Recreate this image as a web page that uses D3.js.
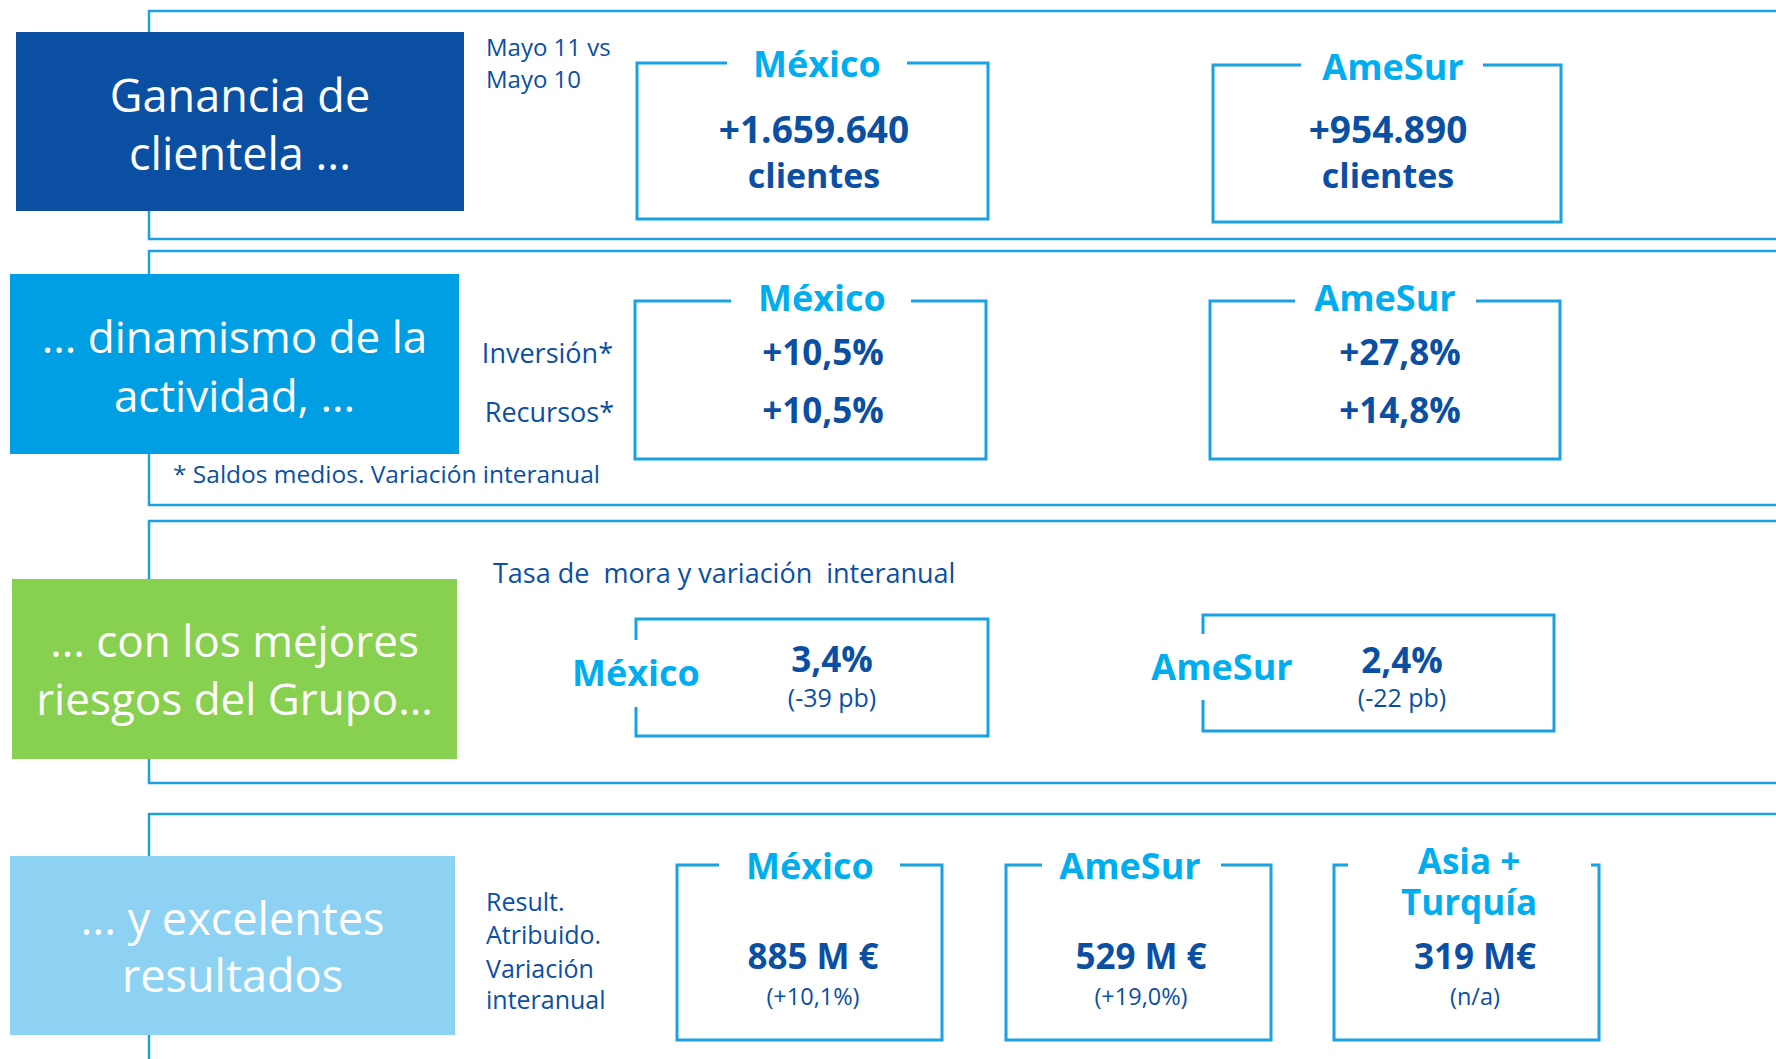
<!DOCTYPE html>
<html>
<head>
<meta charset="utf-8">
<script src="https://cdn.jsdelivr.net/npm/d3@7"></script>
<style>
  body { margin: 0; background: #fff; }
  svg { display: block; font-family: 'Open Sans', sans-serif; }
  text { white-space: pre; }
</style>
</head>
<body>
<div id="chart"></div>
<script>
// data
const themes = [
  ['Ganancia de', 'clientela ...'],
  ['... dinamismo de la', 'actividad, ...'],
  ['... con los mejores', 'riesgos del Grupo...'],
  ['... y excelentes', 'resultados']
];
const regions = ['México', 'AmeSur', 'Asia + Turquía'];
const clientGain = ['+1.659.640', '+954.890'];
const inversion = ['+10,5%', '+27,8%'];
const recursos = ['+10,5%', '+14,8%'];
const moraRate = ['3,4%', '2,4%'];
const moraChange = ['(-39 pb)', '(-22 pb)'];
const profit = ['885 M €', '529 M €', '319 M€'];
const profitChange = ['(+10,1%)', '(+19,0%)', '(n/a)'];

const w = 1776, h = 1059;
const darkBlue = '#0b4fa3';
const lightBlue = '#00aeef';
const lineBlue = '#1ba1e2';
const themeColor = d3.scaleOrdinal()
  .domain(d3.range(4))
  .range(['#0a4fa2', '#009fe3', '#88d04f', '#8dd2f3']);

const svg = d3.select('#chart').append('svg')
  .attr('width', w)
  .attr('height', h);

// outer panel frames
const panels = [
  { top: 11, bottom: 239, box: [16, 32, 464, 211], lines: [112, 170], size: 45 },
  { top: 251, bottom: 505, box: [10, 274, 459, 454], lines: [353, 412], size: 44 },
  { top: 521, bottom: 783, box: [12, 579, 457, 759], lines: [657, 715], size: 44 },
  { top: 814, bottom: 1120, box: [10, 856, 455, 1035], lines: [935, 992], size: 45 }
];

svg.selectAll('rect.frame')
  .data(panels)
  .enter()
  .append('rect')
  .attr('class', 'frame')
  .attr('x', 149)
  .attr('y', d => d.top)
  .attr('width', 1800)
  .attr('height', d => d.bottom - d.top)
  .attr('fill', 'none')
  .attr('stroke', lineBlue)
  .attr('stroke-width', 2.5);

const theme = svg.selectAll('g.theme')
  .data(panels)
  .enter()
  .append('g')
  .attr('class', 'theme');

theme.append('rect')
  .attr('x', d => d.box[0])
  .attr('y', d => d.box[1])
  .attr('width', d => d.box[2] - d.box[0])
  .attr('height', d => d.box[3] - d.box[1])
  .attr('fill', (d, i) => themeColor(i));

theme.each(function (d, i) {
  const cx = (d.box[0] + d.box[2]) / 2;
  d3.select(this).selectAll('text')
    .data(themes[i])
    .enter()
    .append('text')
    .attr('x', cx)
    .attr('y', (t, j) => d.lines[j])
    .attr('text-anchor', 'middle')
    .attr('fill', '#fff')
    .attr('font-size', d.size)
    .text(t => t);
});

// helpers
const label = (x, y, txt, opts = {}) => svg.append('text')
  .attr('x', x)
  .attr('y', y)
  .attr('text-anchor', opts.anchor || 'start')
  .attr('fill', opts.color || darkBlue)
  .attr('font-size', opts.size || 27)
  .attr('font-weight', opts.weight || 'normal')
  .text(txt);

// box with a gap in the top edge for the title
const topGapBox = (x0, y0, x1, y1, g0, g1) => svg.append('path')
  .attr('d', `M${g0},${y0}H${x0}V${y1}H${x1}V${y0}H${g1}`)
  .attr('fill', 'none')
  .attr('stroke', lineBlue)
  .attr('stroke-width', 3);

// box with a gap in the left edge for the title
const leftGapBox = (x0, y0, x1, y1, g0, g1) => svg.append('path')
  .attr('d', `M${x0},${g0}V${y0}H${x1}V${y1}H${x0}V${g1}`)
  .attr('fill', 'none')
  .attr('stroke', lineBlue)
  .attr('stroke-width', 3);

/* panel 1: client gain */
label(486, 56, 'Mayo 11 vs', { size: 24 });
label(486, 88, 'Mayo 10', { size: 24 });
const p1 = [
  { box: [637, 63, 988, 219], gap: [727, 907], lx: 817, ly: 77, vx: 814 },
  { box: [1213, 65, 1561, 222], gap: [1301, 1483], lx: 1393, ly: 80, vx: 1388 }
];
p1.forEach((b, i) => {
  topGapBox(...b.box, ...b.gap);
  label(b.lx, b.ly, regions[i], { anchor: 'middle', color: lightBlue, size: 36, weight: 'bold' });
  label(b.vx, 143, clientGain[i], { anchor: 'middle', size: 37, weight: 'bold' });
  label(b.vx, 188, 'clientes', { anchor: 'middle', size: 34, weight: 'bold' });
});

/* panel 2: activity */
label(613, 363, 'Inversión*', { anchor: 'end' });
label(614, 422, 'Recursos*', { anchor: 'end' });
label(173, 483, '* Saldos medios. Variación interanual', { size: 24.5 });
const p2 = [
  { box: [635, 301, 986, 459], gap: [731, 911], lx: 822, vx: 823 },
  { box: [1210, 301, 1560, 459], gap: [1295, 1476], lx: 1385, vx: 1400 }
];
p2.forEach((b, i) => {
  topGapBox(...b.box, ...b.gap);
  label(b.lx, 311, regions[i], { anchor: 'middle', color: lightBlue, size: 36, weight: 'bold' });
  label(b.vx, 365, inversion[i], { anchor: 'middle', size: 35, weight: 'bold' });
  label(b.vx, 423, recursos[i], { anchor: 'middle', size: 35, weight: 'bold' });
});

/* panel 3: risk */
label(493, 583, 'Tasa de  mora y variación  interanual');
const p3 = [
  { box: [636, 619, 988, 736], gap: [640, 707], lx: 636, ly: 686, vx: 832, vy: 672 },
  { box: [1203, 615, 1554, 731], gap: [634, 700], lx: 1222, ly: 680, vx: 1402, vy: 673 }
];
p3.forEach((b, i) => {
  leftGapBox(...b.box, ...b.gap);
  label(b.lx, b.ly, regions[i], { anchor: 'middle', color: lightBlue, size: 36, weight: 'bold' });
  label(b.vx, b.vy, moraRate[i], { anchor: 'middle', size: 35, weight: 'bold' });
  label(b.vx, 707, moraChange[i], { anchor: 'middle', size: 25 });
});

/* panel 4: results */
['Result.', 'Atribuido.', 'Variación', 'interanual'].forEach((t, i) => {
  label(486, [911, 944, 978, 1009][i], t, { size: 25 });
});
const p4 = [
  { box: [677, 865, 942, 1040], gap: [719, 900], lx: 810, vx: 813 },
  { box: [1006, 865, 1271, 1040], gap: [1042, 1221], lx: 1130, vx: 1141 },
  { box: [1334, 865, 1599, 1040], gap: [1348, 1591], lx: 1469, vx: 1475 }
];
p4.forEach((b, i) => {
  topGapBox(...b.box, ...b.gap);
  if (i < 2) {
    label(b.lx, 879, regions[i], { anchor: 'middle', color: lightBlue, size: 36, weight: 'bold' });
  } else {
    label(b.lx, 874, 'Asia +', { anchor: 'middle', color: lightBlue, size: 35, weight: 'bold' });
    label(b.lx, 915, 'Turquía', { anchor: 'middle', color: lightBlue, size: 35, weight: 'bold' });
  }
  label(b.vx, 969, profit[i], { anchor: 'middle', size: 35, weight: 'bold' });
  label(b.vx, 1005, profitChange[i], { anchor: 'middle', size: 23.5 });
});
</script>
</body>
</html>
